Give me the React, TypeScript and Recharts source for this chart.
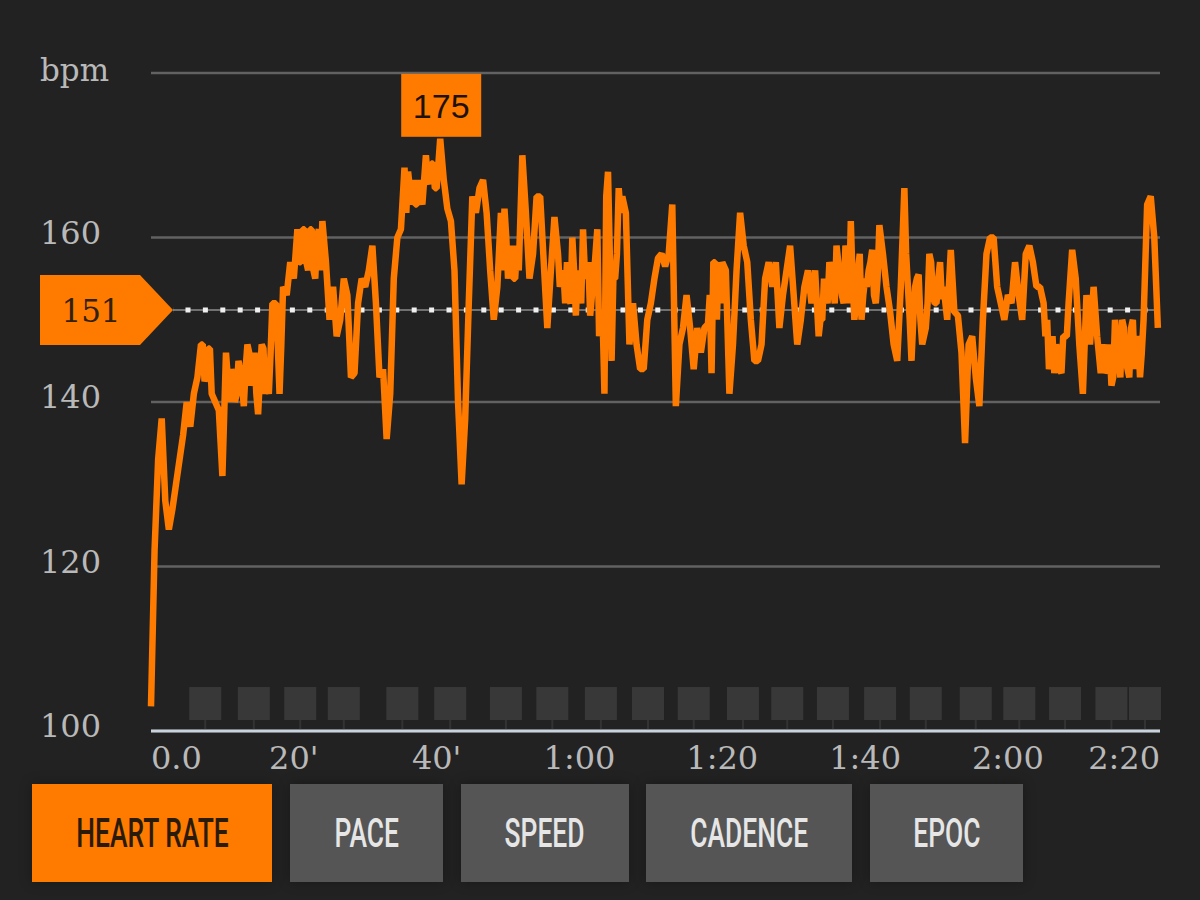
import {
  CartesianGrid,
  ComposedChart,
  Line,
  ReferenceDot,
  ReferenceLine,
  Scatter,
  XAxis,
  YAxis,
} from "recharts";

const ORANGE = "#ff7b00";
const TEXT = "#b9b9b9";
const SERIF = "'DejaVu Serif', serif";

// one reading every half minute
const STEP_MIN = 0.5;
const bpm = [
  103, 122, 133, 138, 128, 124.5, 127, 130, 133, 136, 140, 137, 141, 143, 147, 142.5, 146.5, 141, 140, 139,
  131, 146, 140, 143, 141, 144, 139.5, 147, 142, 146, 138.5, 147, 141, 141, 152, 152, 141, 154, 153, 157,
  155, 161, 157, 161, 156, 161, 155, 161, 162, 157, 150, 154, 148, 150, 155, 153, 143, 143.5, 152, 155,
  154, 156, 159, 152, 143, 144, 135.5, 141, 155, 160, 161, 168.5, 168, 164, 164, 167, 164, 170, 166.5, 169,
  166, 172, 167, 163.5, 162, 156, 140, 130, 138, 152, 165, 163, 166, 167, 163, 156, 150, 154, 163, 163.5,
  155, 159, 155, 156, 170, 163, 155, 158, 165, 165, 157, 149, 156, 162.5, 158, 155, 152, 152.5, 160, 150.5,
  154, 161, 155, 150.5, 155, 161, 150, 141, 168, 145, 155, 166, 165, 163, 147, 152, 147, 144, 144, 150,
  152, 155, 157.5, 158, 156.5, 158, 164, 139.5, 147, 149, 153, 149, 144, 149, 146, 149, 149.5, 143.5, 157, 157,
  157, 156, 141, 147, 156, 163, 159, 157, 150, 145, 145, 147, 155, 157, 154, 157, 149, 153, 156, 159,
  153, 147, 150, 154, 156, 152, 156, 148, 150, 153, 157, 154, 159, 155, 152, 158, 162, 150, 156, 150,
  155, 156, 158.5, 152, 161.5, 158, 154, 151, 147, 145, 154, 166, 154, 145, 154, 155.5, 147, 149, 158, 153,
  152, 157, 154, 150, 158.5, 151, 150.5, 146, 135, 147, 148, 143, 139.5, 150, 158, 160, 160, 154, 152, 150,
  153, 152, 157, 153, 150, 158, 159, 157, 154, 154, 152, 150, 145, 143.5, 146, 143.5, 148, 152, 158.5, 155,
  147, 141, 153, 147, 154, 148, 143.5, 147, 144, 142, 150, 145, 150, 145, 143, 150, 147, 143, 150, 164,
  165, 160, 149,
];

// quarter-minute readings where the trace jitters too fast for the half-minute list
const jitterMinutes = [
  7.25, 7.75, 8.25, 10.75, 11.25, 11.75, 12.25, 12.75, 13.25, 13.75, 14.25, 14.75, 15.25, 15.75, 16.25, 16.75,
  17.75, 18.25, 20.75, 21.25, 21.75, 22.25, 22.75, 23.25, 23.75, 35.75, 36.25, 36.75, 37.25, 37.75, 38.25, 38.75,
  39.25, 39.75, 49.25, 49.75, 50.25, 50.75, 51.25, 57.25, 57.75, 58.25, 58.75, 59.25, 59.75, 60.25, 60.75, 61.25,
  61.75, 62.25, 62.75, 63.25, 63.75, 64.25, 64.75, 65.25, 65.75, 78.25, 78.75, 79.25, 79.75, 93.75, 94.25, 94.75,
  95.25, 95.75, 96.25, 96.75, 97.25, 97.75, 98.25, 98.75, 99.25, 99.75, 100.25, 100.75, 101.25, 101.75, 105.75,
  106.25, 106.75, 107.25, 107.75, 108.75, 109.25, 109.75, 110.25, 110.75, 125.25, 125.75, 126.25, 126.75, 127.25,
  127.75, 128.25, 133.25, 133.75, 134.25, 134.75, 135.25, 135.75, 136.25, 136.75, 137.25, 137.75, 138.25, 138.75,
];
const jitterBpm = [
  147, 143.5, 146.5, 143, 144, 140, 145, 142, 144, 146, 143, 141, 143, 146.5, 142, 146,
  147, 147, 157, 161, 157, 161, 156, 160, 156, 163, 166, 167, 164, 165, 167, 167,
  169, 166, 156, 160, 157, 155, 159, 154, 156, 157, 152, 156, 156, 152, 156, 157,
  153, 158, 148, 150, 165, 158, 155, 158, 163, 153, 157, 150, 152, 150, 155, 152,
  156, 152, 157, 153, 159, 152, 155, 152, 158, 153, 154, 157, 153, 155, 158,
  150, 150, 155, 150, 152, 157, 152, 155, 152.5, 148, 144, 148, 147, 144,
  148, 148, 146, 143.5, 147, 143, 147, 143, 149, 144, 149, 144, 148, 146,
];

const lapMinutes = [
  7.6, 14.4, 20.9, 27, 35.2, 41.9, 49.7, 56.2, 63, 69.6, 76, 82.9, 89.1, 95.5, 102.1, 108.5, 115.5, 121.6, 128,
  134.5, 139.2,
];

const X_MAX = 141.3;
const xTicks = [0, 20, 40, 60, 80, 100, 120, 140];
const xTickLabels = ["0.0", "20'", "40'", "1:00", "1:20", "1:40", "2:00", "2:20"];
const yTicks = [100, 120, 140, 160, 180];
const yTickLabels = ["100", "120", "140", "160", "bpm"];

const AVG_BPM = 151.2;
const AVG_LABEL = "151";
const AVG_TIP_MIN = 3.08;
const PEAK_MIN = 40.5;
const PEAK_BPM = 172;
const PEAK_LABEL = "175";

const tabs = [
  { label: "HEART RATE", left: 32, width: 240, active: true },
  { label: "PACE", left: 290, width: 153, active: false },
  { label: "SPEED", left: 461, width: 168, active: false },
  { label: "CADENCE", left: 646, width: 206, active: false },
  { label: "EPOC", left: 870, width: 153, active: false },
];

const hrRows = [
  ...bpm.map((v, i) => ({ t: i * STEP_MIN, bpm: v })),
  ...jitterMinutes.map((t, i) => ({ t, bpm: jitterBpm[i] })),
].sort((a, b) => a.t - b.t);
const lapRows = lapMinutes.map((t) => ({ t, lap: 103.4 }));

function LapSquare({ cx, cy }: any) {
  return (
    <g>
      <rect x={cx - 16} y={cy - 16} width={32} height={33} fill="#383838" />
      <rect x={cx - 1} y={cy + 17} width={2} height={9} fill="#333333" />
    </g>
  );
}

function XTick({ x, y, index }: any) {
  const first = index === 0;
  const last = index === xTickLabels.length - 1;
  return (
    <text
      x={first ? 151 : last ? 1160 : x}
      y={y + 30}
      textAnchor={first ? "start" : last ? "end" : "middle"}
      fill={TEXT}
      fontFamily={SERIF}
      fontSize={32}
    >
      {xTickLabels[index]}
    </text>
  );
}

function YTick({ y, index }: any) {
  const isUnit = yTickLabels[index] === "bpm";
  return (
    <text x={40} y={y + (isUnit ? 8 : 6)} fill={TEXT} fontFamily={SERIF} fontSize={isUnit ? 31 : 32}>
      {yTickLabels[index]}
    </text>
  );
}

function AvgFlag({ cx, cy }: any) {
  const top = cy - 35;
  const bottom = cy + 35;
  return (
    <g>
      <polygon
        points={`${cx - 133},${top} ${cx - 33},${top} ${cx},${cy} ${cx - 33},${bottom} ${cx - 133},${bottom}`}
        fill={ORANGE}
      />
      <text x={cx - 82} y={cy + 12} textAnchor="middle" fill="#33210f" fontFamily={SERIF} fontSize={31}>
        {AVG_LABEL}
      </text>
    </g>
  );
}

function PeakBox({ cx, cy }: any) {
  return (
    <g>
      <rect x={cx - 39} y={cy - 65} width={80} height={63} fill={ORANGE} />
      <text
        x={cx + 1}
        y={cy - 21}
        textAnchor="middle"
        fill="#1d1205"
        fontFamily="'Liberation Sans', Arial, sans-serif"
        fontSize={34}
      >
        {PEAK_LABEL}
      </text>
    </g>
  );
}

export default function App() {
  return (
    <div style={{ position: "fixed", left: 0, top: 0, width: 1200, height: 900, background: "#222222" }}>
      <ComposedChart width={1200} height={780} data={hrRows} margin={{ top: 73, right: 40, bottom: 0, left: 0 }}>
        <CartesianGrid stroke="#626262" strokeWidth={2.5} vertical={false} />
        <XAxis
          type="number"
          dataKey="t"
          domain={[0, X_MAX]}
          ticks={xTicks}
          interval={0}
          height={49}
          tick={<XTick />}
          tickLine={false}
          axisLine={{ stroke: "#c9d3de", strokeWidth: 3 }}
        />
        <YAxis
          type="number"
          domain={[100, 180]}
          ticks={yTicks}
          interval={0}
          width={151}
          tick={<YTick />}
          tickLine={false}
          axisLine={false}
        />
        <Scatter data={lapRows} dataKey="lap" shape={<LapSquare />} isAnimationActive={false} />
        <ReferenceLine
          segment={[
            { x: AVG_TIP_MIN, y: AVG_BPM },
            { x: X_MAX, y: AVG_BPM },
          ]}
          stroke="#8c8c8c"
          strokeWidth={1.5}
        />
        <ReferenceLine
          segment={[
            { x: AVG_TIP_MIN, y: AVG_BPM },
            { x: X_MAX, y: AVG_BPM },
          ]}
          stroke="#f0f0f0"
          strokeWidth={5}
          strokeDasharray="5 12.4"
          strokeDashoffset={-12.5}
        />
        <Line
          type="linear"
          dataKey="bpm"
          stroke={ORANGE}
          strokeWidth={6.5}
          strokeLinejoin="bevel"
          dot={false}
          activeDot={false}
          isAnimationActive={false}
        />
        <ReferenceDot x={AVG_TIP_MIN} y={AVG_BPM} shape={<AvgFlag />} />
        <ReferenceDot x={PEAK_MIN} y={PEAK_BPM} shape={<PeakBox />} />
      </ComposedChart>
      {tabs.map((tab) => (
        <div
          key={tab.label}
          style={{
            position: "absolute",
            left: tab.left,
            top: 784,
            width: tab.width,
            height: 98,
            background: tab.active ? ORANGE : "#555555",
            color: tab.active ? "#2a1a08" : "#e6e6e6",
            boxShadow: "0 0 12px rgba(0,0,0,0.3)",
            display: "flex",
            alignItems: "center",
            justifyContent: "center",
            fontFamily: "Roboto, sans-serif",
            fontWeight: 500,
            fontSize: 40,
            whiteSpace: "nowrap",
          }}
        >
          <span style={{ display: "inline-block", transform: "scaleX(0.66)" }}>{tab.label}</span>
        </div>
      ))}
    </div>
  );
}
